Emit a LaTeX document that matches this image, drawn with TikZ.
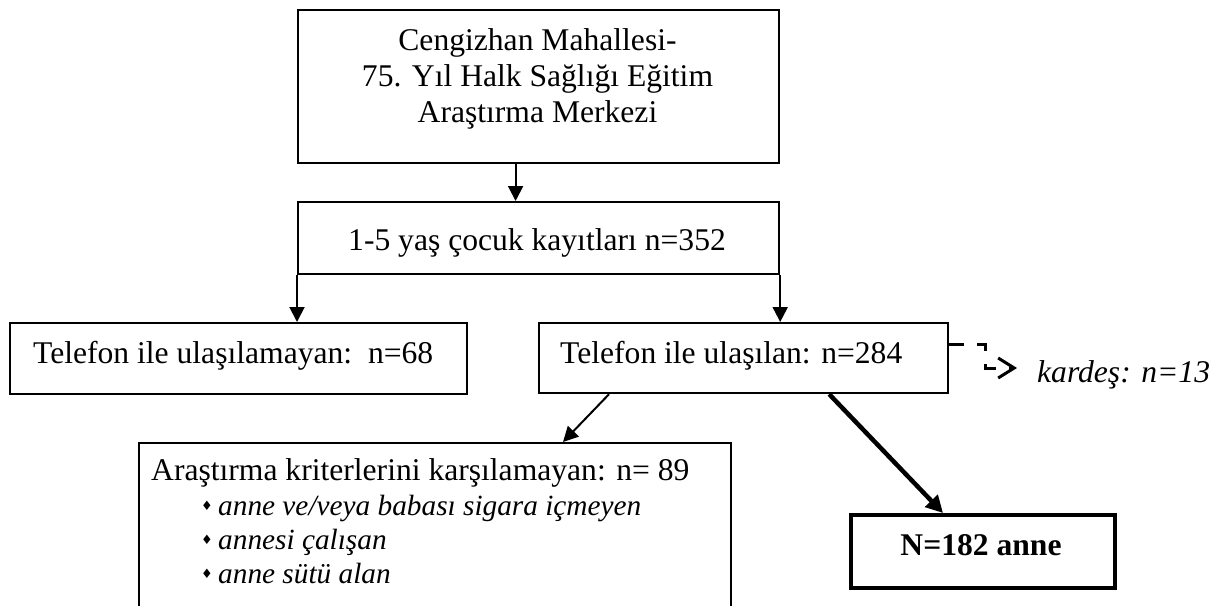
\documentclass[tikz,border=0pt]{standalone}
\usepackage{fontspec}
\setmainfont{Liberation Serif}
\newfontfamily\symfont{DejaVu Sans}
\usetikzlibrary{arrows.meta}
\tikzset{
  box/.style={draw, line width=2.2pt, inner sep=0pt, anchor=north west},
  thickbox/.style={box, line width=4pt},
  lbl/.style={inner sep=0pt, anchor=base, font=\fontsize{31.6}{36}\selectfont},
  lblw/.style={lbl, anchor=base west},
  itm/.style={lblw, font=\fontsize{31.6}{36}\selectfont\itshape},
  sitm/.style={lblw, font=\fontsize{29.3}{34}\selectfont\itshape},
  bul/.style={inner sep=0pt, anchor=center, font=\symfont\fontsize{13}{13}\selectfont},
  arr/.style={line width=2pt, -{Triangle[length=15pt,width=15pt]}},
  tharr/.style={line width=4.5pt, -{Triangle[length=17pt,width=17pt]}},
  dasharr/.style={line width=3pt, dash pattern=on 15pt off 13pt, -{Straight Barb[length=16pt,width=20pt]}}
}
\begin{document}
\begin{tikzpicture}[x=1pt,y=-1pt]
\useasboundingbox (0,0) rectangle (1226,605);
\clip (0,0) rectangle (1226,605);
% boxes
\node[box, minimum width=481pt, minimum height=153pt] (top) at (297,9) {};
\node[box, minimum width=481pt, minimum height=72pt] (b2) at (297,201) {};
\node[box, minimum width=457pt, minimum height=71pt] (lb) at (9,322) {};
\node[box, minimum width=409pt, minimum height=70pt] (rb) at (538,322) {};
\node[box, minimum width=592pt, minimum height=200pt] (ar) at (138,442) {};
\node[thickbox, minimum width=264pt, minimum height=73pt] (nb) at (849,513) {};
% texts
\node[lbl] (t1) at (537.5,50) {Cengizhan Mahallesi-};
\node[lbl] (t2) at (537.5,86) {75. Yıl Halk Sağlığı Eğitim};
\node[lbl] (t3) at (537.5,122) {Araştırma Merkezi};
\node[lblw] (t4) at (348,250) {1-5 yaş çocuk kayıtları n=352};
\node[lblw] (t5) at (33,363) {Telefon ile ulaşılamayan:\ \ n=68};
\node[lblw] (t6) at (560,363) {Telefon ile ulaşılan: n=284};
\node[itm] (t7) at (1037,382) {kardeş: n=13};
\node[lblw] (t8) at (151,480) {Araştırma kriterlerini karşılamayan: n= 89};
\node[bul] (u1) at (207,506) {♦};
\node[sitm] (i1) at (218,515) {anne ve/veya babası sigara içmeyen};
\node[bul] (u2) at (207,540) {♦};
\node[sitm] (i2) at (218,549) {annesi çalışan};
\node[bul] (u3) at (207,574) {♦};
\node[sitm] (i3) at (218,583) {anne sütü alan};
\node[lbl, font=\fontsize{31.6}{36}\selectfont\bfseries] (t9) at (981,555) {N=182 anne};
% connectors
\draw[arr] ([xshift=-23pt]top.south) -- ([xshift=-23pt]top.south |- b2.north);
\draw[arr] (b2.south west) -- (b2.south west |- lb.north);
\draw[arr] (b2.south east) -- (b2.south east |- rb.north);
\draw[arr] ([xshift=71pt]rb.south west) -- ([xshift=425pt]ar.north west);
\draw[tharr] ([xshift=-120pt]rb.south east) -- ([xshift=94pt]nb.north west);
\coordinate (kdtip) at (1017,368);
\draw[dasharr] ([yshift=14pt]rb.east) -- ++(36,0) |- (kdtip);
\end{tikzpicture}
\end{document}
